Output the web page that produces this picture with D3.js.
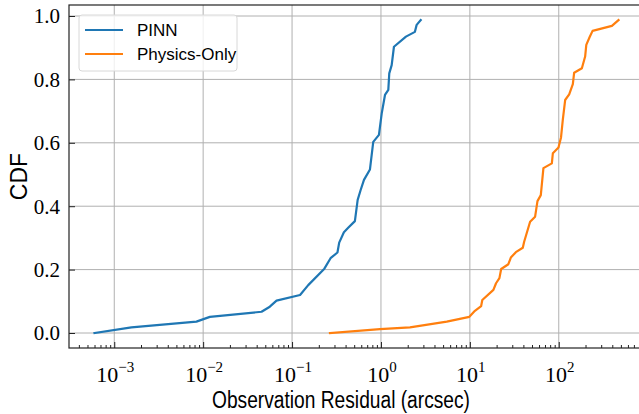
<!DOCTYPE html>
<html>
<head>
<meta charset="utf-8">
<script src="https://cdn.jsdelivr.net/npm/d3@7"></script>
<style>
  body { margin: 0; background: #fff; }
  svg { display: block; }
</style>
</head>
<body>
<svg id="chart"></svg>
<script>
// residuals (arcsec) and CDF values
const pinnResidual = [6.0e-4, 1.56e-3, 8.4e-3, 0.0119, 0.0454, 0.0562, 0.0669, 0.123, 0.152, 0.231,
  0.271, 0.324, 0.339, 0.383, 0.428, 0.509, 0.547, 0.591, 0.644, 0.752, 0.819, 0.949, 1.02, 1.11,
  1.21, 1.24, 1.32, 1.40, 1.91, 2.41, 2.52, 2.80];
const pinnCdf = [0.0, 0.018, 0.036, 0.051, 0.067, 0.083, 0.102, 0.120, 0.151, 0.203,
  0.236, 0.254, 0.285, 0.318, 0.332, 0.353, 0.420, 0.451, 0.483, 0.516, 0.603, 0.625, 0.693, 0.751,
  0.767, 0.819, 0.845, 0.903, 0.935, 0.950, 0.972, 0.987];

const physResidual = [0.267, 0.975, 2.12, 5.50, 9.87, 11.4, 13.4, 13.8, 18.4, 19.7, 21.5, 22.5,
  27.1, 28.9, 32.9, 39.4, 40.8, 47.6, 54.2, 57.6, 62.8, 67.2, 83.6, 85.8, 99.3, 106, 111, 118,
  131, 144, 149, 182, 198, 204, 222, 240, 396, 470];
const physCdf = [0.0, 0.012, 0.018, 0.036, 0.051, 0.070, 0.085, 0.104, 0.136, 0.157, 0.173, 0.202,
  0.217, 0.238, 0.255, 0.269, 0.288, 0.351, 0.367, 0.416, 0.435, 0.520, 0.535, 0.567, 0.585, 0.617,
  0.672, 0.735, 0.753, 0.785, 0.821, 0.835, 0.872, 0.909, 0.933, 0.953, 0.969, 0.987];

const seriesNames = ['PINN', 'Physics-Only'];
const seriesColors = ['#1f77b4', '#ff7f0e'];
const xTickExps = [-3, -2, -1, 0, 1, 2];
const yTicks = [0, 0.2, 0.4, 0.6, 0.8, 1.0];

const W = 639, H = 414;
const m = { left: 69, right: 645, top: 5, bottom: 348 };

const svg = d3.select('#chart').attr('width', W).attr('height', H);

const x = d3.scaleLog()
  .domain([Math.pow(10, -3.509), Math.pow(10, 2.97)])
  .range([m.left, m.right]);
const y = d3.scaleLinear()
  .domain([-0.0473, 1.0347])
  .range([m.bottom, m.top]);

svg.append('defs').append('clipPath').attr('id', 'plot')
  .append('rect').attr('x', m.left).attr('y', m.top)
  .attr('width', m.right - m.left).attr('height', m.bottom - m.top);

// grid
const grid = svg.append('g');
xTickExps.forEach(e => {
  grid.append('line')
    .attr('x1', x(Math.pow(10, e))).attr('x2', x(Math.pow(10, e)))
    .attr('y1', m.top).attr('y2', m.bottom)
    .attr('stroke', '#b0b0b0').attr('stroke-width', 1);
});
yTicks.forEach(t => {
  grid.append('line')
    .attr('x1', m.left).attr('x2', m.right)
    .attr('y1', y(t)).attr('y2', y(t))
    .attr('stroke', '#b0b0b0').attr('stroke-width', 1);
});

// curves
const line = d3.line().x(d => x(d[0])).y(d => y(d[1]));
const series = [
  d3.zip(pinnResidual, pinnCdf),
  d3.zip(physResidual, physCdf)
];
const curves = svg.append('g').attr('clip-path', 'url(#plot)');
series.forEach((s, i) => {
  curves.append('path')
    .datum(s)
    .attr('d', line)
    .attr('fill', 'none')
    .attr('stroke', seriesColors[i])
    .attr('stroke-width', 2.2)
    .attr('stroke-linejoin', 'round')
    .attr('stroke-linecap', 'square');
});

// axes (ticks pointing inward)
svg.append('g').attr('transform', `translate(0,${m.bottom})`)
  .call(d3.axisBottom(x)
    .tickValues(xTickExps.map(e => Math.pow(10, e)))
    .tickSizeInner(-6).tickSizeOuter(0).tickFormat(''));

const minor = [];
for (let e = -4; e <= 2; e++) {
  for (let k = 2; k <= 9; k++) {
    const v = k * Math.pow(10, e);
    if (x(v) > m.left && x(v) < m.right) minor.push(v);
  }
}
svg.append('g').attr('transform', `translate(0,${m.bottom})`)
  .call(d3.axisBottom(x).tickValues(minor).tickSizeInner(-3).tickSizeOuter(0).tickFormat(''));

svg.append('g').attr('transform', `translate(${m.left},0)`)
  .call(d3.axisLeft(y).tickValues(yTicks).tickSizeInner(-6).tickSizeOuter(0).tickFormat(''));

svg.selectAll('.tick line').attr('stroke', '#222').attr('stroke-width', 1);
svg.selectAll('.domain').remove();

// frame
svg.append('rect')
  .attr('x', m.left).attr('y', m.top).attr('width', m.right - m.left).attr('height', m.bottom - m.top)
  .attr('fill', 'none').attr('stroke', '#222').attr('stroke-width', 1.2);

// tick labels
const serif = '"Liberation Serif", "DejaVu Serif", serif';
const sans = '"Liberation Sans", "DejaVu Sans", sans-serif';
yTicks.forEach(t => {
  svg.append('text')
    .attr('x', m.left - 9).attr('y', y(t)).attr('dy', '0.35em')
    .attr('text-anchor', 'end')
    .attr('font-family', serif).attr('font-size', 21)
    .text(t.toFixed(1));
});
xTickExps.forEach(e => {
  const t = svg.append('text')
    .attr('x', x(Math.pow(10, e)) + 1).attr('y', 382)
    .attr('text-anchor', 'middle')
    .attr('font-family', serif).attr('font-size', 22);
  t.append('tspan').text('10');
  t.append('tspan').attr('dy', -10).attr('font-size', 15).text(e < 0 ? '\u2212' + (-e) : String(e));
});

// axis titles
svg.append('text')
  .attr('x', 212).attr('y', 408)
  .attr('textLength', 258).attr('lengthAdjust', 'spacingAndGlyphs')
  .attr('font-family', sans).attr('font-size', 23)
  .text('Observation Residual (arcsec)');
svg.append('text')
  .attr('transform', `translate(27,${(m.top + m.bottom) / 2}) rotate(-90)`)
  .attr('text-anchor', 'middle')
  .attr('font-family', sans).attr('font-size', 23)
  .text('CDF');

// legend
const lg = svg.append('g');
lg.append('rect')
  .attr('x', 79).attr('y', 15).attr('width', 158).attr('height', 56).attr('rx', 3)
  .attr('fill', '#fff').attr('fill-opacity', 0.8)
  .attr('stroke', '#d8d8d8').attr('stroke-width', 1);
seriesNames.forEach((n, i) => {
  const ly = 30 + i * 24;
  lg.append('line')
    .attr('x1', 85).attr('x2', 123).attr('y1', ly).attr('y2', ly)
    .attr('stroke', seriesColors[i]).attr('stroke-width', 2);
  lg.append('text')
    .attr('x', 137).attr('y', ly).attr('dy', '0.35em')
    .attr('font-family', sans).attr('font-size', 17)
    .text(n);
});
</script>
</body>
</html>
